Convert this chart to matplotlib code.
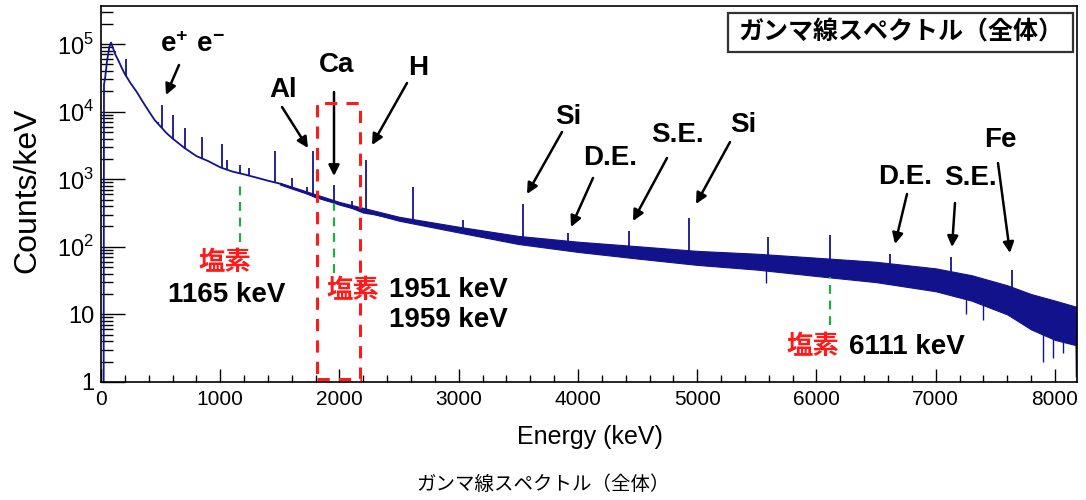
import numpy as np
import matplotlib
matplotlib.use("Agg")
import matplotlib.pyplot as plt
from matplotlib.patches import Rectangle
from matplotlib.ticker import MultipleLocator, LogLocator, FuncFormatter, NullFormatter

plt.rcParams["font.family"] = ["Liberation Sans", "DejaVu Sans"]
plt.rcParams["mathtext.fontset"] = "custom"
plt.rcParams["mathtext.rm"] = "Liberation Sans"
plt.rcParams["mathtext.bf"] = "Liberation Sans:bold"

# ---- spectrum data (counts per keV) ----
energy = [0, 22, 25, 35, 50, 70, 84, 100, 120, 150, 175, 200, 250, 300, 350,
          400, 450, 500, 550, 600, 700, 800, 900, 1000, 1100, 1200, 1300, 1400,
          1500, 1600, 1700, 1800, 1900, 2000, 2100, 2200, 2300, 2400, 2500,
          2600, 2700, 2800, 2900, 3000, 3200, 3400, 3600, 3800, 4000, 4200,
          4400, 4600, 4800, 5000, 5200, 5400, 5600, 5800, 6000, 6200, 6400,
          6600, 6800, 7000, 7200, 7400, 7600, 7800, 8000, 8100, 8178, 8182]
counts = [0.5, 0.5, 2.5e4, 3.2e4, 5.5e4, 9.0e4, 1.05e5, 8.8e4, 7.0e4, 5.5e4,
          4.4e4, 3.6e4, 2.6e4, 1.95e4, 1.4e4, 1.02e4, 7.5e3, 6.0e3, 4.8e3,
          4.0e3, 2.9e3, 2.2e3, 1.85e3, 1.5e3, 1.3e3, 1.18e3, 1.06e3, 950, 860,
          740, 650, 540, 480, 440, 380, 320, 300, 275, 258, 240, 225, 205, 195,
          180, 158, 135, 123, 112, 100, 92, 86, 80, 72, 68, 65, 62, 58, 54, 50,
          46, 43, 40, 36, 31, 26, 21, 15, 10, 8, 7, 6, 1.2]

# statistical spread of the continuum
band_energy = [1500, 2000, 2500, 3000, 3500, 4000, 4500, 5000, 5500, 6000,
               6500, 7000, 7300, 7600, 7800, 8000, 8178]
band_low = [835, 420, 243, 163, 110, 84, 67, 54, 46, 37, 30, 22, 16, 10, 6.0, 4.2, 3.5]
band_high = [885, 460, 278, 198, 145, 119, 102, 87, 79, 69, 60, 48, 38, 27, 20, 16, 13]

# full-energy and escape peaks
peak_energy = [117, 210, 480, 511, 600, 707, 845, 1014, 1060, 1165, 1240, 1460,
               1602, 1727, 1779, 1951, 2105, 2223, 2614, 3036, 3539, 3917, 4430,
               4934, 5590, 6111, 6620, 7130, 7640]
peak_counts = [8.0e4, 6.0e4, 7.0e3, 1.26e4, 8.9e3, 5.7e3, 4.2e3, 3.3e3, 1.9e3,
               1.6e3, 1.45e3, 2.6e3, 1.05e3, 770, 2.6e3, 820, 470, 1.9e3, 770,
               250, 430, 160, 170, 265, 140, 150, 79, 70, 45]

# deep downward fluctuations
dip_energy = [5577, 7250, 7396, 7900, 7985, 8070]
dip_counts = [29, 10, 8.3, 2.0, 2.3, 2.7]

chlorine_lines = [1165, 1951, 6111]

# ---- figure ----
W, H = 1086, 500
fig = plt.figure(figsize=(W / 100, H / 100), dpi=100)
ax = fig.add_axes([101 / W, 1 - 382 / H, (1077 - 101) / W, (382 - 6) / H])
ax.set_yscale("log")
ax.set_xlim(0, 8185)
ax.set_ylim(1, 3.65e5)

blue = "#12128c"
ax.fill_between(band_energy, band_low, band_high, color=blue, lw=0.8)
ax.plot(energy, counts, color=blue, lw=1.3)
log_c = np.log(counts)
peak_base = np.exp(np.interp(peak_energy, energy, log_c))
ax.vlines(peak_energy, peak_base, peak_counts, color=blue, lw=1.3)
dip_base = np.exp(np.interp(dip_energy, energy, log_c))
ax.vlines(dip_energy, dip_counts, dip_base, color=blue, lw=1.0)

# chlorine markers
green = "#22aa44"
ax.vlines(chlorine_lines[0], 117, 980, colors=green, linestyles=(0, (4, 3)), lw=1.6)
ax.vlines(chlorine_lines[1], 41, 447, colors=green, linestyles=(0, (4, 3)), lw=1.6)
ax.vlines(chlorine_lines[2], 7, 36, colors=green, linestyles=(0, (4, 3)), lw=1.6)

# region of interest around the 1951/1959 keV doublet
ax.add_patch(Rectangle((1811, 1.1), 2172 - 1811, 1.34e4 - 1.1, fill=False,
                       ec="#ff1a1a", lw=2.2, ls=(0, (4, 3)), zorder=5))

# axes styling
for s in ax.spines.values():
    s.set_linewidth(1.2)
ax.xaxis.set_major_locator(MultipleLocator(1000))
ax.xaxis.set_minor_locator(MultipleLocator(200))
ax.yaxis.set_major_locator(LogLocator(base=10))
ax.yaxis.set_minor_locator(LogLocator(base=10, subs=np.arange(2, 10)))
ax.yaxis.set_minor_formatter(NullFormatter())


def ylab(v, pos):
    n = int(round(np.log10(v)))
    if n == 0:
        return "1"
    if n == 1:
        return "10"
    return r"$10^{%d}$" % n


ax.yaxis.set_major_formatter(FuncFormatter(ylab))
ax.tick_params(axis="both", which="both", direction="in", top=False, right=False)
ax.tick_params(axis="y", which="major", length=17, width=1, pad=5, labelsize=17)
ax.tick_params(axis="y", which="minor", length=8.6, width=1)
ax.tick_params(axis="x", which="major", length=9.4, width=1, pad=6, labelsize=15)
ax.tick_params(axis="x", which="minor", length=5, width=1)

ax.set_xlabel("Energy (keV)", fontsize=18)
ax.xaxis.set_label_coords(0.501, -0.115)
ax.set_ylabel("Counts/keV", fontsize=23)
ax.yaxis.set_label_coords(-0.060, 0.511)

# title box
cjk = ["Noto Sans CJK JP", "DejaVu Sans"]
fig.patches.append(Rectangle((728 / W, 1 - 52 / H), (1073 - 728) / W, 39 / H,
                             transform=fig.transFigure, fc="white", ec="#333333",
                             lw=1.6, zorder=10))
fig.text(901 / W, 1 - 32.5 / H, "ガンマ線スペクトル（全体）", ha="center", va="center",
         fontsize=18, fontweight="bold", family=cjk, zorder=11)

# caption
fig.text(543 / W, 1 - 484 / H, "ガンマ線スペクトル（全体）", ha="center", va="center",
         fontsize=14, family=cjk)

# peak annotations (pixel positions in the figure)
arrow_kw = dict(arrowstyle="-|>", color="black", lw=1.8, mutation_scale=16,
                shrinkA=0, shrinkB=0)
labels = [
    (r"$\mathbf{e^{+}\ e^{-}}$", 193, 45, (179, 65), (166, 95)),
    ("Al", 283, 90, (282, 107), (308, 148)),
    ("Ca", 337, 65, (334, 92), (334, 176)),
    ("H", 418, 68, (407, 83), (372, 145)),
    ("Si", 568, 117, (562, 132), (527, 194)),
    ("D.E.", 610, 158, (593, 178), (571, 227)),
    ("S.E.", 677, 135, (667, 158), (633, 221)),
    ("Si", 743, 125, (730, 142), (696, 204)),
    ("D.E.", 905, 177, (907, 194), (895, 244)),
    ("S.E.", 970, 178, (955, 203), (952, 247)),
    ("Fe", 1000, 140, (998, 163), (1010, 253)),
]
for text, tx, ty, tail, tip in labels:
    fig.text(tx / W, 1 - ty / H, text, ha="center", va="center", fontsize=20,
             fontweight="bold")
    ax.annotate("", xy=(tip[0], H - tip[1]), xytext=(tail[0], H - tail[1]),
                xycoords="figure pixels", textcoords="figure pixels",
                arrowprops=arrow_kw)

red = "#ff1a1a"
fig.text(225 / W, 1 - 262 / H, "塩素", ha="center", va="center", fontsize=19,
         fontweight="bold", color=red, family=cjk)
fig.text(227 / W, 1 - 295 / H, "1165 keV", ha="center", va="center", fontsize=20,
         fontweight="bold")
fig.text(353 / W, 1 - 290 / H, "塩素", ha="center", va="center", fontsize=19,
         fontweight="bold", color=red, family=cjk)
fig.text(389 / W, 1 - 290 / H, "1951 keV", ha="left", va="center", fontsize=20,
         fontweight="bold")
fig.text(389 / W, 1 - 320 / H, "1959 keV", ha="left", va="center", fontsize=20,
         fontweight="bold")
fig.text(813 / W, 1 - 347 / H, "塩素", ha="center", va="center", fontsize=19,
         fontweight="bold", color=red, family=cjk)
fig.text(849 / W, 1 - 347 / H, "6111 keV", ha="left", va="center", fontsize=20,
         fontweight="bold")

fig.savefig("out.png", dpi=100)
